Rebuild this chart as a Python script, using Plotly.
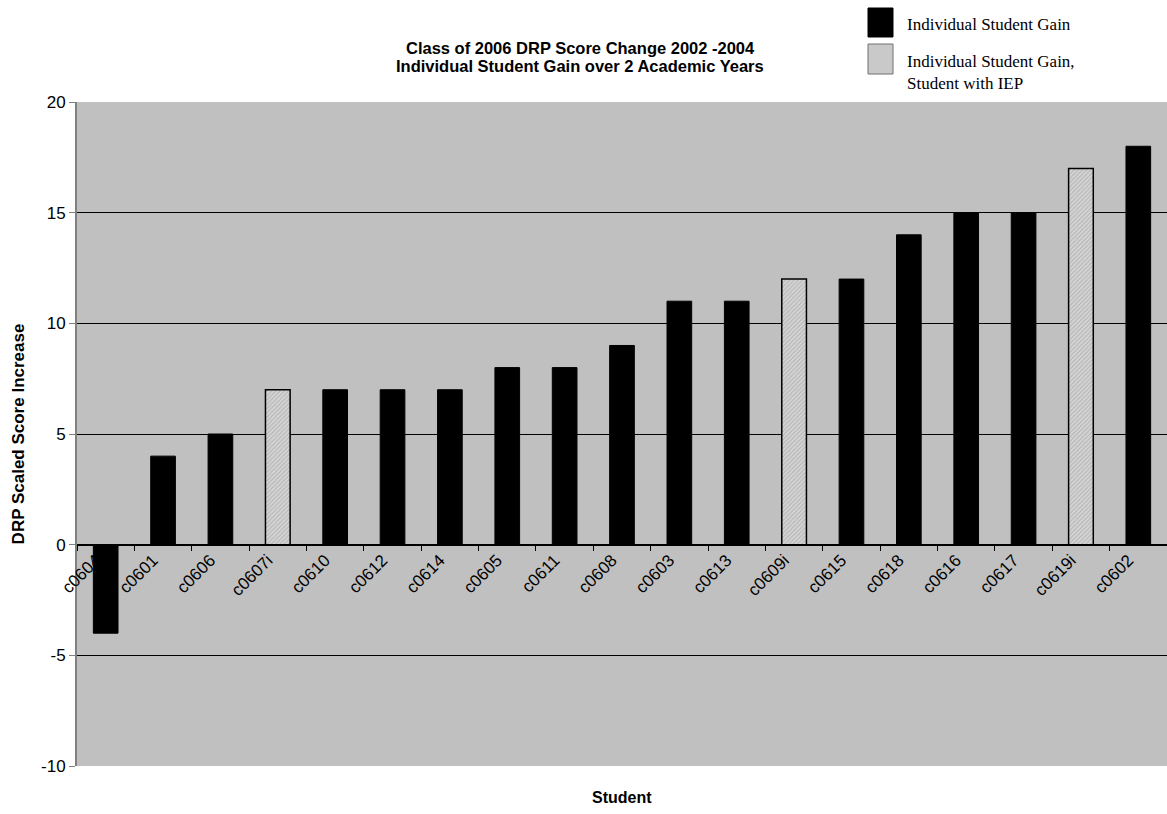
import plotly.graph_objects as go

# Student gains (DRP scaled score, 2002 -> 2004), sorted ascending
students = ["c0604", "c0601", "c0606", "c0607i", "c0610", "c0612", "c0614",
            "c0605", "c0611", "c0608", "c0603", "c0613", "c0609i", "c0615",
            "c0618", "c0616", "c0617", "c0619i", "c0602"]
gains = [-4, 4, 5, 7, 7, 7, 7, 8, 8, 9, 11, 11, 12, 12, 14, 15, 15, 17, 18]
iep_flags = [False, False, False, True, False, False, False, False, False, False,
             False, False, True, False, False, False, False, True, False]

series_names = ["Individual Student Gain",
                "Individual Student Gain,<br>Student with IEP"]
title_lines = ["Class of 2006 DRP Score Change 2002 -2004",
               "Individual Student Gain over 2 Academic Years"]

y_min, y_max, y_step = -10, 20, 5
y_ticks = list(range(y_min, y_max + 1, y_step))

W, H = 1167, 814
M_L, M_R, M_T, M_B = 77, 0, 102, 48
PW, PH = W - M_L - M_R, H - M_T - M_B


def px_x(x):
    """page pixel x -> paper coordinate"""
    return (x - M_L) / PW


def px_y(y):
    """page pixel y -> paper coordinate"""
    return (H - M_B - y) / PH


SANS = "Liberation Sans, Arial"
SERIF = "Liberation Serif, Times New Roman"

reg_x = [s for s, f in zip(students, iep_flags) if not f]
reg_y = [g for g, f in zip(gains, iep_flags) if not f]
iep_x = [s for s, f in zip(students, iep_flags) if f]
iep_y = [g for g, f in zip(gains, iep_flags) if f]

fig = go.Figure()
fig.add_trace(go.Bar(
    x=reg_x, y=reg_y, name=series_names[0],
    marker=dict(color="black", line=dict(color="black", width=1)),
    width=0.43,
))
fig.add_trace(go.Bar(
    x=iep_x, y=iep_y, name=series_names[1],
    marker=dict(color="#d0d0d0", line=dict(color="black", width=1.5),
                pattern=dict(shape="/", fgcolor="#8a8a8a", bgcolor="#d4d4d4",
                             size=3, solidity=0.3)),
    width=0.43,
))

zero_frac = (0 - y_min) / (y_max - y_min)

fig.update_layout(
    width=W, height=H,
    margin=dict(l=M_L, r=M_R, t=M_T, b=M_B),
    paper_bgcolor="white",
    plot_bgcolor="#c0c0c0",
    showlegend=False,
    barmode="overlay",
    font=dict(family=SANS, size=17, color="black"),
    xaxis=dict(
        type="category",
        categoryorder="array", categoryarray=students,
        anchor="free", position=zero_frac,
        showline=True, linecolor="black", linewidth=1,
        tickson="boundaries", ticks="outside", ticklen=5, tickcolor="black",
        tickangle=-45, showgrid=False, zeroline=False,
        ticklabelshift=-10, ticklabelstandoff=-2,
        tickfont=dict(size=17, family=SANS),
        range=[-0.5, len(students) - 0.5],
    ),
    yaxis=dict(
        range=[y_min, y_max],
        tickvals=y_ticks, ticktext=[str(v) for v in y_ticks],
        showgrid=True, gridcolor="black", gridwidth=1,
        zeroline=False,
        showline=True, linecolor="#808080", linewidth=2,
        ticks="outside", ticklen=6, tickcolor="#808080",
        tickfont=dict(size=17, family=SANS),
        title=dict(text="<b>DRP Scaled Score Increase</b>",
                   font=dict(size=17, family=SANS), standoff=12),
    ),
)

# Two-line chart title
for line, cy in zip(title_lines, (48, 66)):
    fig.add_annotation(text=f"<b>{line}</b>", xref="paper", yref="paper",
                       x=px_x(580), y=px_y(cy), xanchor="center", yanchor="middle",
                       showarrow=False, font=dict(size=16.5, family=SANS))

# x-axis title under the plot area
fig.add_annotation(
    text="<b>Student</b>", xref="paper", yref="paper",
    x=0.5, y=px_y(797), showarrow=False, xanchor="center", yanchor="middle",
    font=dict(size=16, family=SANS),
)

# Legend block, top right
legend_fill = [dict(fillcolor="black", line=dict(color="black", width=1)),
               dict(fillcolor="#c9c9c9", line=dict(color="#707070", width=1))]
legend_rows = [(8, 37, 25), (44, 74, 73)]
for (top, bot, ty), name, style in zip(legend_rows, series_names, legend_fill):
    fig.add_shape(type="rect", xref="paper", yref="paper",
                  x0=px_x(868), x1=px_x(893), y0=px_y(bot), y1=px_y(top),
                  fillcolor=style["fillcolor"], line=style["line"])
    fig.add_annotation(text=name, xref="paper", yref="paper",
                       x=px_x(905), y=px_y(ty), xanchor="left", yanchor="middle",
                       align="left", showarrow=False,
                       font=dict(size=17, family=SERIF))

fig.write_html("out.html")
